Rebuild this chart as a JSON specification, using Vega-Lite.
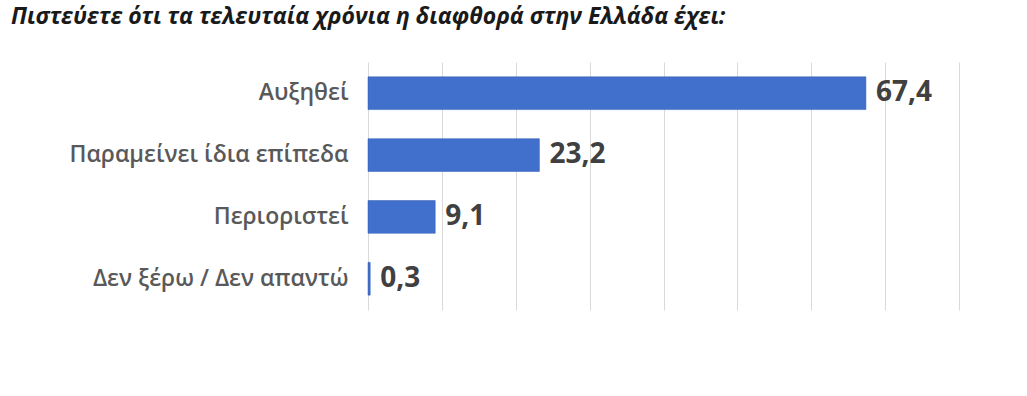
{
  "$schema": "https://vega.github.io/schema/vega-lite/v6.json",
  "autosize": {"type": "none"},
  "width": 591,
  "height": 248,
  "padding": {"left": 368, "top": 62, "right": 68, "bottom": 86},
  "background": "white",
  "config": {
    "view": {"stroke": null},
    "locale": {"number": {"decimal": ",", "thousands": ".", "grouping": [3], "currency": ["", " €"]}},
    "font": "Open Sans"
  },
  "title": {
    "text": "Πιστεύετε ότι τα τελευταία χρόνια η διαφθορά στην Ελλάδα έχει:",
    "anchor": "start",
    "frame": "group",
    "dx": -357,
    "offset": 33,
    "font": "Open Sans",
    "fontSize": 23,
    "fontWeight": "bold",
    "fontStyle": "italic",
    "color": "#1a1a1a"
  },
  "data": {
    "values": [
      {"answer": "Αυξηθεί", "value": 67.4},
      {"answer": "Παραμείνει ίδια επίπεδα", "value": 23.2},
      {"answer": "Περιοριστεί", "value": 9.1},
      {"answer": "Δεν ξέρω / Δεν απαντώ", "value": 0.3}
    ]
  },
  "encoding": {
    "y": {
      "field": "answer",
      "type": "nominal",
      "sort": null,
      "scale": {"paddingInner": 0.47, "paddingOuter": 0.24},
      "axis": {
        "title": null,
        "domain": false,
        "ticks": false,
        "labelPadding": 20,
        "labelFont": "Open Sans",
        "labelFontSize": 23,
        "labelFontWeight": 600,
        "labelColor": "#595959",
        "labelLimit": 400
      }
    },
    "x": {
      "field": "value",
      "type": "quantitative",
      "scale": {"domain": [0, 80]},
      "axis": {
        "title": null,
        "labels": false,
        "ticks": false,
        "domain": false,
        "values": [0, 10, 20, 30, 40, 50, 60, 70, 80],
        "grid": true,
        "gridColor": "#d9d9d9",
        "gridWidth": 1
      }
    }
  },
  "layer": [
    {
      "mark": {"type": "bar", "color": "#4170cc", "stroke": "#2f5bb3", "strokeWidth": 0.5}
    },
    {
      "mark": {
        "type": "text",
        "align": "left",
        "baseline": "middle",
        "dx": 10,
        "font": "Open Sans",
        "fontSize": 28,
        "fontWeight": "bold",
        "color": "#404040"
      },
      "encoding": {
        "text": {"field": "value", "type": "quantitative", "format": ".1f"}
      }
    }
  ]
}
